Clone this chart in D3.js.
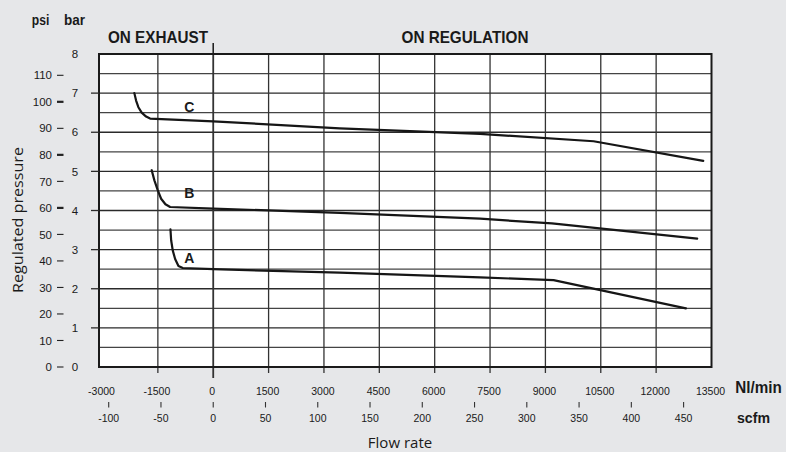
<!DOCTYPE html>
<html><head><meta charset="utf-8">
<script src="https://cdn.jsdelivr.net/npm/d3@7"></script>
<style>
html,body{margin:0;padding:0;background:#e6e7e9;}
svg{display:block;}
text{fill:#1a1a1a;}
</style></head>
<body><svg id="c" width="786" height="452"></svg>
<script>
// ---- data ----
const flowTicks = [-3000,-1500,0,1500,3000,4500,6000,7500,9000,10500,12000,13500]; // Nl/min
const scfmTicks = [-100,-50,0,50,100,150,200,250,300,350,400,450];
const barTicks = [0,1,2,3,4,5,6,7,8];
const psiTicks = [0,10,20,30,40,50,60,70,80,90,100,110];
const psiBold = [100,80,60];
const gridBar = [0.5,1,1.5,2,2.5,3,3.5,4,4.5,5,5.5,6,6.5,7,7.5];
const gridFlow = [-1500,0,1500,3000,4500,6000,7500,9000,10500,12000];
const curveNames = ["A","B","C"];
// [flow Nl/min, pressure bar]
const curveA = [[-1159,3.52],[-1140,3.24],[-1097,2.98],[-1032,2.76],[-942,2.58],[-825,2.53],[0,2.50],[3429,2.41],[7230,2.29],[9221,2.22],[12807,1.50]];
const curveB = [[-1667,5.03],[-1594,4.77],[-1504,4.52],[-1412,4.30],[-1295,4.16],[-1167,4.09],[0,4.05],[3429,3.94],[7230,3.79],[9177,3.67],[13112,3.28]];
const curveC = [[-2137,7.00],[-2090,6.81],[-2028,6.64],[-1938,6.50],[-1819,6.40],[-1710,6.35],[0,6.28],[3429,6.10],[7230,5.96],[10306,5.77],[13276,5.27]];
const labelPos = [[-650,2.78],[-650,4.45],[-650,6.65]]; // label anchor in data units
const SCFM = 28.32;

(function(){
const svg = d3.select("#c");
const x = d3.scaleLinear().domain([-3000,13500]).range([102.5,711.5]);
const xs = d3.scaleLinear().domain([-3000/SCFM,13500/SCFM]).range([102.5,711.5]);
const y = d3.scaleLinear().domain([0,8]).range([367,54]);
const yp = d3.scaleLinear().domain([0,110]).range([367,75.3]);
const sans = "'Liberation Sans',Arial,sans-serif";
const pL = 99, pR = x(13500), pT = y(8), pB = y(0);

svg.append("rect").attr("x",pL).attr("y",pT).attr("width",pR-pL).attr("height",pB-pT).attr("fill","#fff");

svg.append("g").selectAll("line").data(gridBar).join("line")
  .attr("x1",pL).attr("x2",pR).attr("y1",d=>y(d)).attr("y2",d=>y(d))
  .attr("stroke",(d)=>Number.isInteger(d)?"#2a2a2a":"#444").attr("stroke-width",1.3);
svg.append("g").selectAll("line").data(gridFlow).join("line")
  .attr("x1",d=>x(d)).attr("x2",d=>x(d)).attr("y1",pT).attr("y2",d=>d===0?pB+11:pB+6)
  .attr("stroke","#333").attr("stroke-width",d=>d===0?1.8:1.3);
svg.append("line").attr("x1",x(0)).attr("x2",x(0)).attr("y1",43).attr("y2",pT).attr("stroke","#222").attr("stroke-width",1.6);

svg.append("rect").attr("x",pL).attr("y",pT).attr("width",pR-pL).attr("height",pB-pT)
  .attr("fill","none").attr("stroke","#1a1a1a").attr("stroke-width",2);

svg.append("g").selectAll("line").data(barTicks.filter(d=>d>0&&d<8)).join("line")
  .attr("x1",91).attr("x2",pL).attr("y1",d=>y(d)).attr("y2",d=>y(d)).attr("stroke","#2a2a2a").attr("stroke-width",1.3);
svg.append("g").selectAll("text").data(barTicks).join("text")
  .attr("x",75).attr("y",d=>y(d)).attr("dy","0.36em").attr("text-anchor","middle")
  .attr("font-family",sans).attr("font-size",11.5).text(d=>d);

svg.append("g").selectAll("text").data(psiTicks).join("text")
  .attr("x",52).attr("y",d=>yp(d)).attr("dy","0.36em").attr("text-anchor","end")
  .attr("font-family",sans).attr("font-size",11.5).text(d=>d);
svg.append("g").selectAll("line").data(psiTicks).join("line")
  .attr("x1",57).attr("x2",63.5).attr("y1",d=>yp(d)).attr("y2",d=>yp(d))
  .attr("stroke","#222").attr("stroke-width",d=>psiBold.includes(d)?2.2:1.1);

function label(txt,cx,cy,size,len,weight){
  svg.append("text").attr("x",cx).attr("y",cy).attr("dy","0.36em").attr("text-anchor","middle")
    .attr("font-family",sans).attr("font-weight",weight||"bold").attr("font-size",size)
    .attr("textLength",len).attr("lengthAdjust","spacingAndGlyphs").text(txt);
}
label("psi",40.5,20,14,17.5);
label("bar",74.5,20,14,21);
label("ON EXHAUST",158,37,17,100);
label("ON REGULATION",465,37,17,127);
label("Nl/min",758.5,387,16,46.5);
label("scfm",753.5,418,15,33);

svg.append("g").selectAll("text").data(flowTicks).join("text")
  .attr("x",d=>x(d)-1).attr("y",391).attr("dy","0.36em").attr("text-anchor","middle")
  .attr("font-family",sans).attr("font-size",10.5).text(d=>d);

svg.append("g").selectAll("line").data(scfmTicks).join("line")
  .attr("x1",d=>xs(d)).attr("x2",d=>xs(d)).attr("y1",402).attr("y2",407.5).attr("stroke","#333").attr("stroke-width",1.1);
svg.append("g").selectAll("text").data(scfmTicks).join("text")
  .attr("x",d=>xs(d)).attr("y",418).attr("dy","0.36em").attr("text-anchor","middle")
  .attr("font-family",sans).attr("font-size",10.5).text(d=>d);

svg.append("text").attr("x",400).attr("y",443).attr("dy","0.36em").attr("text-anchor","middle")
  .attr("font-family","'Open Sans',sans-serif").attr("font-size",15).text("Flow rate");
svg.append("text").attr("transform","translate(18,220) rotate(-90)").attr("dy","0.36em").attr("text-anchor","middle")
  .attr("font-family","'Open Sans',sans-serif").attr("font-size",15)
  .attr("textLength",146).attr("lengthAdjust","spacingAndGlyphs").text("Regulated pressure");

const line = d3.line().x(d=>x(d[0])).y(d=>y(d[1]));
const curves = [curveA, curveB, curveC];
svg.append("g").selectAll("path").data(curves).join("path")
  .attr("d",line).attr("fill","none").attr("stroke","#161616").attr("stroke-width",2.2)
  .attr("stroke-linejoin","round").attr("stroke-linecap","round");
svg.append("g").selectAll("text").data(curveNames).join("text")
  .attr("x",(d,i)=>x(labelPos[i][0])).attr("y",(d,i)=>y(labelPos[i][1])).attr("dy","0.36em").attr("text-anchor","middle")
  .attr("font-family",sans).attr("font-weight","bold").attr("font-size",14).text(d=>d);
})();
</script></body></html>
